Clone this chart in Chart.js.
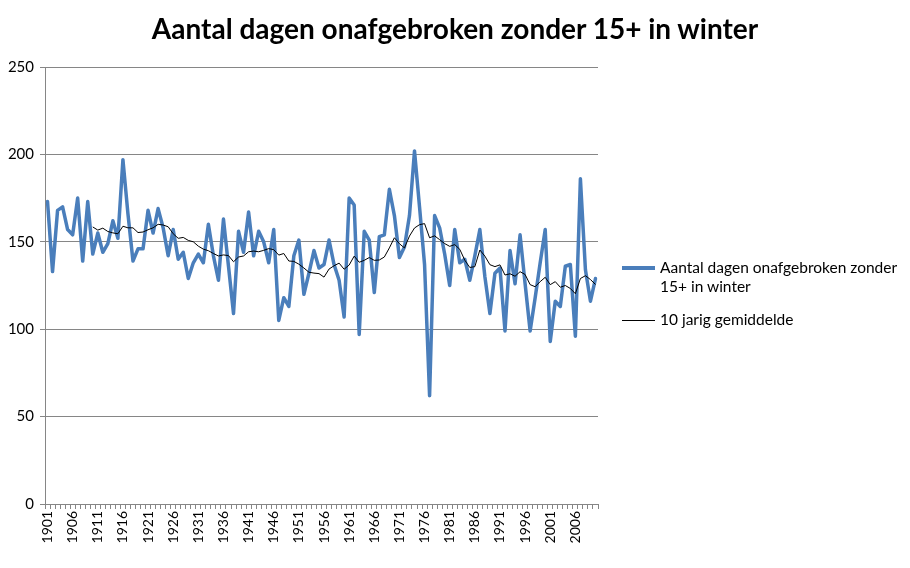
<!DOCTYPE html>
<html>
<head>
<meta charset="utf-8">
<script src="https://cdn.jsdelivr.net/npm/chart.js@4.4.1/dist/chart.umd.min.js"></script>
<style>
  html, body { margin: 0; padding: 0; background: #ffffff; }
  #wrap { position: relative; width: 910px; height: 568px; overflow: hidden; font-family: "Lato", "Open Sans", sans-serif; }
  #chart { position: absolute; left: 0; top: 0; }
  #title { position: absolute; left: 0; top: 11px; width: 910px; text-align: center; font-weight: bold; font-size: 28px; color: #000; }
  .leg { position: absolute; font-size: 15.5px; color: #000; line-height: 19px; }
  .sw { position: absolute; left: 622px; width: 33px; }
</style>
</head>
<body>
<div id="wrap">
  <canvas id="chart" width="910" height="568"></canvas>
  <div id="title">Aantal dagen onafgebroken zonder 15+ in winter</div>
  <div class="sw" style="top:266px; height:4px; background:#4A7EBB;"></div>
  <div class="leg" style="left:660px; top:258px;">Aantal dagen onafgebroken zonder<br>15+ in winter</div>
  <div class="sw" style="top:320px; height:1px; background:#000;"></div>
  <div class="leg" style="left:660px; top:310px;">10 jarig gemiddelde</div>
</div>
<script>
const years = [1901,1902,1903,1904,1905,1906,1907,1908,1909,1910,
  1911,1912,1913,1914,1915,1916,1917,1918,1919,1920,
  1921,1922,1923,1924,1925,1926,1927,1928,1929,1930,
  1931,1932,1933,1934,1935,1936,1937,1938,1939,1940,
  1941,1942,1943,1944,1945,1946,1947,1948,1949,1950,
  1951,1952,1953,1954,1955,1956,1957,1958,1959,1960,
  1961,1962,1963,1964,1965,1966,1967,1968,1969,1970,
  1971,1972,1973,1974,1975,1976,1977,1978,1979,1980,
  1981,1982,1983,1984,1985,1986,1987,1988,1989,1990,
  1991,1992,1993,1994,1995,1996,1997,1998,1999,2000,
  2001,2002,2003,2004,2005,2006,2007,2008,2009,2010];

const dagen = [173,133,168,170,157,154,175,139,173,143,
  155,144,149,162,152,197,166,139,146,146,
  168,155,169,158,142,157,140,144,129,138,
  143,138,160,142,128,163,136,109,156,144,
  167,142,156,150,138,157,105,118,113,142,
  151,120,132,145,135,137,151,137,128,107,
  175,171,97,156,151,121,153,154,180,165,
  141,147,165,202,170,137,62,165,158,143,
  125,157,138,140,128,142,157,130,109,132,
  135,99,145,126,154,126,99,118,138,157,
  93,116,113,136,137,96,186,134,116,129];

const gemiddelde = [null,null,null,null,null,null,null,null,null,158.5,
  156.7,157.8,155.9,155.1,154.6,158.9,158.0,158.0,155.3,155.6,
  156.9,158.0,160.0,159.6,158.6,154.6,152.0,152.5,150.8,150.0,
  147.5,145.8,144.9,143.3,141.9,142.5,142.1,138.6,141.3,141.9,
  144.3,144.7,144.3,145.1,146.1,145.5,142.4,143.3,139.0,138.8,
  137.2,135.0,132.6,132.1,131.8,129.8,134.4,136.3,137.8,134.3,
  136.7,141.8,138.3,139.4,141.0,139.4,139.6,141.3,146.5,152.3,
  148.9,146.5,153.3,157.9,159.8,160.4,152.3,153.4,151.2,149.0,
  147.4,148.4,145.7,139.5,135.3,135.8,145.3,141.8,136.9,135.8,
  136.8,131.0,131.7,130.3,132.9,131.3,125.5,124.3,127.2,129.7,
  125.5,127.2,124.0,125.0,123.3,120.3,129.0,130.6,128.4,125.6];

const xTickLabels = ['1901','1906','1911','1916','1921','1926','1931','1936','1941','1946',
  '1951','1956','1961','1966','1971','1976','1981','1986','1991','1996','2001','2006'];
const yTicks = [0,50,100,150,200,250];

const PLOT_LEFT = 45, PLOT_TOP = 67, PLOT_RIGHT = 598, PLOT_BOTTOM = 504;

new Chart(document.getElementById('chart'), {
  type: 'line',
  data: {
    labels: years.map(String),
    datasets: [
      { label: 'Aantal dagen onafgebroken zonder 15+ in winter', data: dagen,
        borderColor: '#4A7EBB', borderWidth: 3.5, pointRadius: 0, tension: 0,
        borderJoinStyle: 'round', borderCapStyle: 'round', fill: false, order: 2 },
      { label: '10 jarig gemiddelde', data: gemiddelde,
        borderColor: '#000000', borderWidth: 1, pointRadius: 0, tension: 0,
        fill: false, spanGaps: false, order: 1 }
    ]
  },
  options: {
    responsive: false,
    animation: false,
    devicePixelRatio: 1,
    layout: { padding: { left: 0, top: PLOT_TOP, right: 910 - PLOT_RIGHT, bottom: 0 } },
    plugins: { legend: { display: false }, title: { display: false }, tooltip: { enabled: false } },
    scales: {
      x: {
        type: 'category',
        offset: true,
        afterFit: s => { s.height = 568 - PLOT_BOTTOM; },
        grid: { display: true, drawOnChartArea: false, drawTicks: true, tickLength: 5, color: '#868686', offset: true },
        border: { display: true, color: '#868686', width: 1 },
        ticks: {
          autoSkip: false, maxRotation: 90, minRotation: 90, padding: 2,
          color: '#000', font: { family: 'Lato', size: 14 },
          callback: function(v, i) { const l = this.getLabelForValue(v); return xTickLabels.includes(l) ? l : ''; }
        }
      },
      y: {
        min: 0, max: 250,
        afterFit: s => { s.width = PLOT_LEFT; },
        afterBuildTicks: s => { s.ticks = yTicks.map(v => ({ value: v })); },
        grid: { color: '#868686', lineWidth: 1, drawTicks: true, tickLength: 5 },
        border: { display: true, color: '#868686', width: 1 },
        ticks: { color: '#000', font: { family: 'Lato', size: 15 }, padding: 6 }
      }
    }
  }
});
</script>
</body>
</html>
